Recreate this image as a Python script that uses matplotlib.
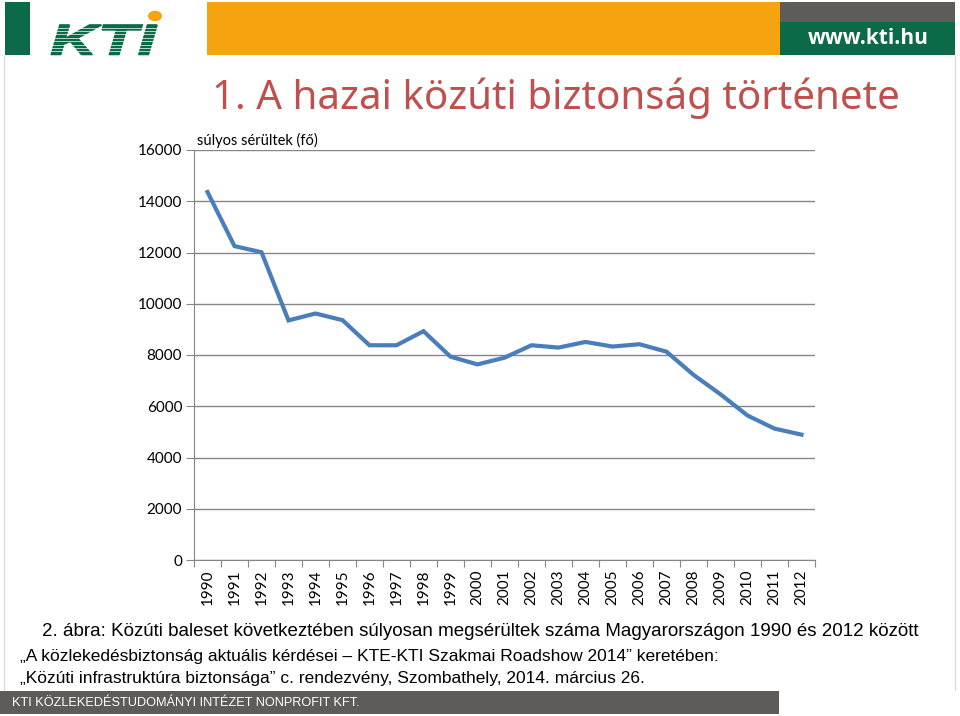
import matplotlib.pyplot as plt
from matplotlib.patches import Rectangle, Circle, PathPatch
from matplotlib.lines import Line2D
from matplotlib.textpath import TextPath
from matplotlib.font_manager import FontProperties
from matplotlib.path import Path

years = [str(y) for y in range(1990, 2013)]
injured = [14360, 12250, 12010, 9350, 9620, 9360, 8380, 8380, 8930, 7935, 7633,
           7895, 8380, 8290, 8510, 8330, 8420, 8130, 7226, 6466, 5639, 5128, 4892]
y_ticks = [0, 2000, 4000, 6000, 8000, 10000, 12000, 14000, 16000]

W, H = 960, 716
green = '#0b6a48'
orange = '#f5a30f'
gray = '#5f5b58'

fig = plt.figure(figsize=(9.6, 7.16), dpi=100)


def box(x0, y0, x1, y1, color):
    # pixel coords (top-left origin) -> figure fraction
    fig.add_artist(Rectangle((x0 / W, 1 - y1 / H), (x1 - x0) / W, (y1 - y0) / H,
                             transform=fig.transFigure, color=color, lw=0))


def txt(x, y, s, **kw):
    fig.text(x / W, 1 - y / H, s, **kw)


# header
box(5, 2, 30, 55, green)
box(207, 2, 780, 55, orange)
box(780, 2, 955, 22, gray)
box(780, 22, 955, 55, green)
txt(868, 39, 'www.kti.hu', color='white', fontsize=15, fontweight='bold',
    family='Open Sans', ha='center', va='center')

# logo: stretched italic KTI with thin white stripes
tp = TextPath((0, 0), 'KTI', size=1,
              prop=FontProperties(family='Liberation Sans', weight='bold', style='italic'))
v = tp.vertices.copy()
x0, x1 = v[:, 0].min(), v[:, 0].max()
y0, y1 = v[:, 1].min(), v[:, 1].max()
px = 50 + (v[:, 0] - x0) / (x1 - x0) * (157 - 50)
py = 55 - (v[:, 1] - y0) / (y1 - y0) * (55 - 25)
v[:, 0] = px / W
v[:, 1] = 1 - py / H
fig.add_artist(PathPatch(Path(v, tp.codes), transform=fig.transFigure,
                         facecolor=green, edgecolor=green, lw=1.2, zorder=5))
for k in range(9):
    yy = 27.5 + k * 3.4
    fig.add_artist(Line2D([45 / W, 162 / W], [1 - yy / H, 1 - yy / H],
                          transform=fig.transFigure, color='white', lw=0.5, zorder=6))
fig.add_artist(Circle((155 / W, 1 - 16 / H), 7 / W, transform=fig.transFigure,
                      color=orange, lw=0, zorder=7))

# slide border
for xx in (4, 955):
    fig.add_artist(Line2D([xx / W, xx / W], [1 - 55 / H, 1 - 690 / H],
                          transform=fig.transFigure, color='#d8d8d8', lw=0.8))

# title
txt(556, 98, '1. A hazai közúti biztonság története', color='#c0504d', fontsize=29,
    family='Noto Sans', ha='center', va='center')

# chart
ax = fig.add_axes([194 / W, 1 - 560 / H, (815 - 194) / W, 410 / H])
ax.plot(range(len(years)), injured, color='#4a7ebb', lw=3, solid_joinstyle='miter')
ax.set_ylim(0, 16000)
ax.set_xlim(-0.5, len(years) - 0.5)
ax.set_yticks(y_ticks)
ax.set_yticklabels([str(v) for v in y_ticks], family='Lato', fontsize=11)
ax.set_xticks([i - 0.5 for i in range(len(years) + 1)])
ax.set_xticklabels([])
ax.set_xticks(range(len(years)), minor=True)
ax.set_xticklabels(years, minor=True, rotation=90, family='Lato', fontsize=11)
ax.tick_params(axis='x', which='major', length=5, color='#868686', direction='out')
ax.tick_params(axis='x', which='minor', length=0, pad=7)
ax.tick_params(axis='y', length=6, color='#868686', pad=2.5)
ax.grid(axis='y', color='#868686', lw=1)
ax.set_axisbelow(True)
for s in ('top', 'right'):
    ax.spines[s].set_visible(False)
for s in ('left', 'bottom'):
    ax.spines[s].set_color('#868686')
ax.text(0.005, 1.005, 'súlyos sérültek (fő)', transform=ax.transAxes, family='Lato',
        fontsize=10.5, ha='left', va='bottom')

# captions
narrow = ['Liberation Sans Narrow', 'Liberation Sans']
txt(480, 631, '2. ábra: Közúti baleset következtében súlyosan megsérültek száma Magyarországon 1990 és 2012 között',
    family=narrow, fontsize=13.5, ha='center', va='center')
txt(20, 657, '„A közlekedésbiztonság aktuális kérdései – KTE-KTI Szakmai Roadshow 2014” keretében:',
    family=narrow, fontsize=12.5, ha='left', va='center')
txt(20, 679, '„Közúti infrastruktúra biztonsága” c. rendezvény, Szombathely, 2014. március 26.',
    family=narrow, fontsize=12.5, ha='left', va='center')

# footer
box(0, 691, 779, 714, gray)
txt(12, 703, 'KTI KÖZLEKEDÉSTUDOMÁNYI INTÉZET NONPROFIT KFT.', color='white',
    family=narrow, fontsize=9.2, ha='left', va='center')

fig.savefig('out.png', dpi=100)
